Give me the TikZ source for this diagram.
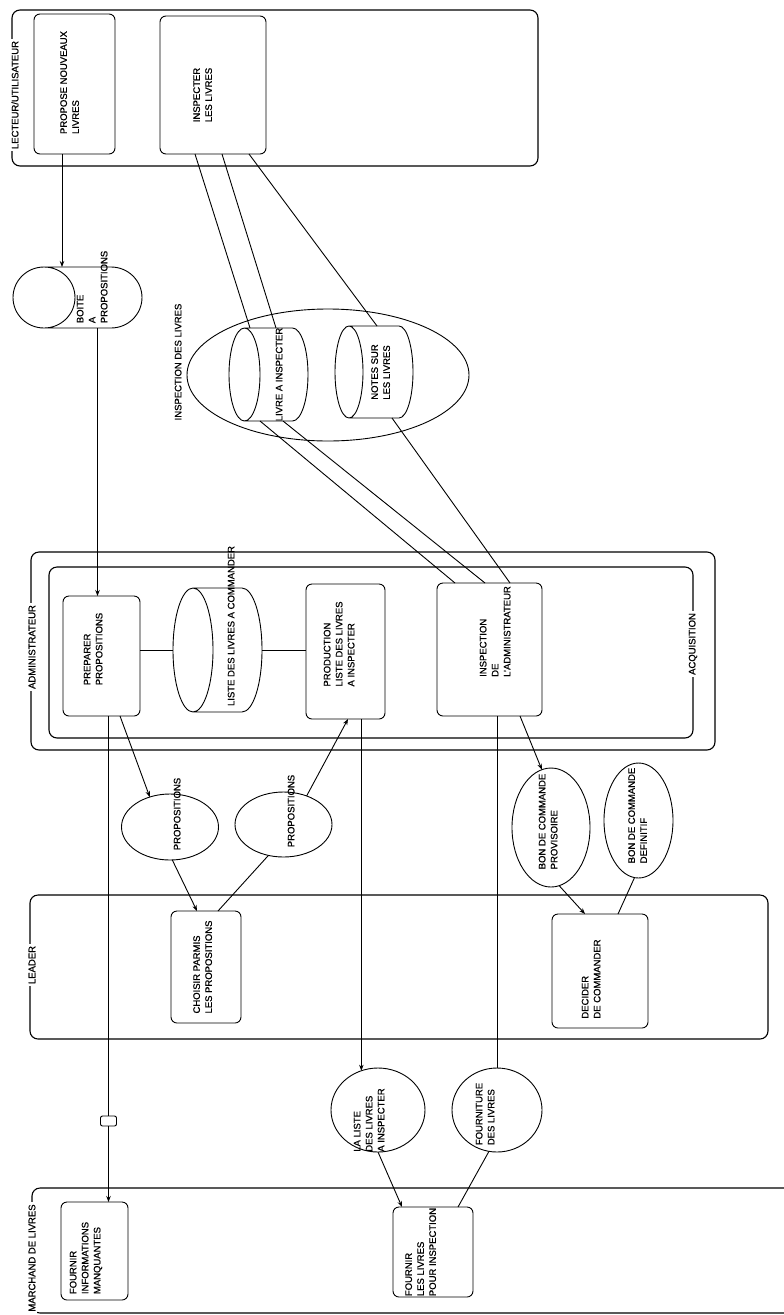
\documentclass[tikz,border=0pt]{standalone}
\usepackage{fontspec}
\setmainfont{Liberation Sans}[FakeBold=0.8,AutoFakeBold=0.8]
\usetikzlibrary{arrows.meta,shapes.geometric,calc}
% rotated multi-line text of zero size, centred at (dx,dy) from the node centre
\newcommand\vtx[3]{\makebox[0pt]{\hspace*{#1}\hspace*{#1}\raisebox{#2}[0pt][0pt]{\raisebox{-.5\height}{\rotatebox{90}{\begin{tabular}{@{}l@{}}#3\end{tabular}}}}}}
% outline of a horizontal cylinder drawn round a named node
\newcommand\cylout[2]{\draw[shp] let \p1=(#1.north west), \p2=(#1.south east), \n1={(\y1-\y2)/2}, \n2={(\y1+\y2)/2} in
  (\x1+#2pt,\y1) -- (\x2-#2pt,\y1) arc[start angle=90,end angle=-90,x radius=#2pt,y radius=\n1] -- (\x1+#2pt,\y2)
  (\x1+#2pt,\n2) ellipse[x radius=#2pt,y radius=\n1];}
\begin{document}
\begin{tikzpicture}[x=1pt,y=-1pt,
  every node/.style={font=\fontsize{9.5}{12}\selectfont\bfseries, inner sep=0pt, outer sep=0pt},
  shp/.style={line width=.9pt},
  box/.style={draw, shp, rectangle, rounded corners=6pt},
  oval/.style={draw, shp, ellipse},
  cylbase/.style={rectangle},
  lane/.style={line width=1.1pt, rounded corners=8pt},
  lanelab/.style={fill=white, inner sep=2pt, rotate=90},
  con/.style={line width=.9pt},
  arr/.style={con, -{Stealth[length=6pt,width=4.5pt]}}]
\useasboundingbox (0,0) rectangle (784,1315);
\clip (0,0) rectangle (784,1315);
\fill[white] (0,0) rectangle (784,1315);

% swimlanes
\draw[lane] (12,10) rectangle (538,166);
\draw[lane] (31,552) rectangle (715,750);
\draw[lane] (49,567) rectangle (693,738);
\draw[lane] (30,895) rectangle (768,1039);
\draw[lane] (32,1188) rectangle (800,1313);
\node[lanelab] (llect) at (15,95) {LECTEUR/UTILISATEUR};
\node[lanelab] (ladm) at (32,647) {ADMINISTRATEUR};
\node[lanelab] (lacq) at (693,644) {ACQUISITION};
\node[lanelab] (llead) at (32,965) {LEADER};
\node[lanelab] (lmarch) at (32,1258) {MARCHAND DE LIVRES};

% processes
\node[box, minimum width=81pt, minimum height=140pt] (prop) at (74.5,84) {\vtx{-4pt}{1.5pt}{PROPOSE NOUVEAUX\\LIVRES}};
\node[box, minimum width=106pt, minimum height=138pt] (insp) at (213,85) {\vtx{-9.5pt}{-10pt}{INSPECTER\\LES LIVRES}};
\node[box, minimum width=77pt, minimum height=120pt] (prep) at (101.5,656) {\vtx{-7.5pt}{7pt}{PREPARER\\PROPOSITIONS}};
\node[box, minimum width=79pt, minimum height=135pt] (prod) at (345.5,651.5) {\vtx{-5.5pt}{7.5pt}{PRODUCTION\\LISTE DES LIVRES\\A INSPECTER}};
\node[box, minimum width=105pt, minimum height=133pt] (adm) at (489.5,649.5) {\vtx{6.5pt}{18pt}{INSPECTION\\DE\\L'ADMINISTRATEUR}};
\node[box, minimum width=70pt, minimum height=112pt] (chois) at (206,967) {\vtx{-2.5pt}{0pt}{CHOISIR PARMIS\\LES PROPOSITIONS}};
\node[box, minimum width=96pt, minimum height=114pt] (dec) at (600,971) {\vtx{-8pt}{-8pt}{DECIDER\\DE COMMANDER}};
\node[box, minimum width=67pt, minimum height=98pt] (finfo) at (94.5,1251) {\vtx{-8.5pt}{-7pt}{FOURNIR\\INFORMATIONS\\MANQUANTES}};
\node[box, minimum width=80pt, minimum height=90pt] (fliv) at (433,1252) {\vtx{-11.5pt}{0pt}{FOURNIR\\LES LIVRES\\POUR INSPECTION}};

% stores
\node[oval, minimum width=282pt, minimum height=132pt] (ins) at (328,375) {\vtx{-149pt}{13pt}{INSPECTION DES LIVRES}};
\node[cylbase, minimum width=129pt, minimum height=61pt] (boite) at (77.5,297.5) {\vtx{15.5pt}{10.5pt}{BOITE\\A\\PROPOSITIONS}};
\cylout{boite}{31}
\node[cylbase, minimum width=79pt, minimum height=93pt] (livre) at (268.5,374.5) {\vtx{11.5pt}{0pt}{LIVRE A INSPECTER}};
\cylout{livre}{15.5}
\node[cylbase, minimum width=78pt, minimum height=92pt] (notes) at (374,372) {\vtx{7.5pt}{0pt}{NOTES SUR\\LES LIVRES}};
\cylout{notes}{14}
\node[cylbase, minimum width=89pt, minimum height=124pt] (liste) at (217.5,650) {\vtx{14.5pt}{24pt}{LISTE DES LIVRES A COMMANDER}};
\cylout{liste}{20}

% flows
\node[oval, minimum width=97pt, minimum height=66pt] (p1) at (170,827) {\vtx{8pt}{13pt}{PROPOSITIONS}};
\node[oval, minimum width=97pt, minimum height=65pt] (p2) at (283.5,824.5) {\vtx{8.5pt}{13.5pt}{PROPOSITIONS}};
\node[oval, minimum width=78pt, minimum height=119pt] (bcp) at (551,827.5) {\vtx{-2pt}{6pt}{BON DE COMMANDE\\PROVISOIRE}};
\node[oval, minimum width=69pt, minimum height=115pt] (bcd) at (638.5,820.5) {\vtx{0pt}{5pt}{BON DE COMMANDE\\DEFINITIF}};
\node[oval, minimum width=94pt, minimum height=84pt] (liste2) at (378,1110) {\vtx{-8pt}{-10pt}{LA LISTE\\DES LIVRES\\A INSPECTER}};
\node[oval, minimum width=90pt, minimum height=84pt] (fourn) at (497,1110) {\vtx{-11pt}{-4pt}{FOURNITURE\\DES LIVRES}};
\node[box, rounded corners=2pt, fill=white, minimum width=16pt, minimum height=10pt] (tag) at (108.5,1121) {};

% connectors
\draw[arr] ([xshift=-12.5pt]prop.south) -- ([xshift=-15.5pt]boite.north);
\draw[arr] ([xshift=20pt]boite.south) -- ([xshift=-4pt]prep.north);
\draw[con] ([xshift=-18pt]insp.south) -- ([xshift=-18.5pt]livre.north);
\draw[con] ([xshift=9pt]insp.south) -- ([xshift=7.5pt]livre.north);
\draw[con] ([xshift=36pt]insp.south) -- ([xshift=3pt]notes.north);
\draw[con] ([xshift=-8.5pt]livre.south) -- ([xshift=-34.5pt]adm.north);
\draw[con] ([xshift=14.5pt]livre.south) -- ([xshift=-4.5pt]adm.north);
\draw[con] ([xshift=18pt]notes.south) -- ([xshift=20.5pt]adm.north);
\draw[con] (liste.west -| prep.east) -- (liste.west);
\draw[con] (liste.east) -- (liste.east -| prod.west);
\draw[arr] ([xshift=18.5pt]prep.south) -- (p1.124);
\draw[con] ([xshift=7pt]prep.south) -- (tag.north);
\draw[arr] (tag.south) -- (tag.south |- finfo.north);
\draw[arr] (p1.-86) -- ([xshift=-9pt]chois.north);
\draw[con] ([xshift=12pt]chois.north) -- (p2.244);
\draw[arr] (p2.51) -- ([xshift=2.5pt]prod.south);
\draw[arr] (liste2.113 |- prod.south) -- (liste2.113);
\draw[arr] ([xshift=30.5pt]adm.south) -- (bcp.99);
\draw[arr] (bcp.-82) -- ([xshift=-15pt]dec.north);
\draw[con] (bcd.-94) -- ([xshift=18pt]dec.north);
\draw[con] (fourn.north) -- (fourn.north |- adm.south);
\draw[arr] (liste2.south) -- ([xshift=-31pt]fliv.north);
\draw[con] ([xshift=25pt]fliv.north) -- (fourn.259);
\end{tikzpicture}
\end{document}
